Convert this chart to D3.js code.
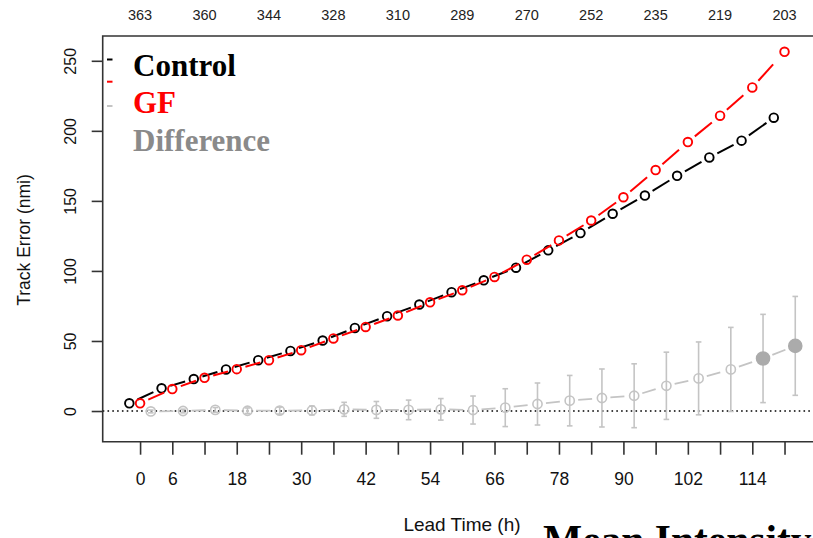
<!DOCTYPE html>
<html>
<head>
<meta charset="utf-8">
<script src="https://cdn.jsdelivr.net/npm/d3@7"></script>
<style>
  body { margin: 0; background: #fff; }
  svg { display: block; overflow: hidden; }
</style>
</head>
<body>
<div id="main"></div>
<script>
// lead times (h) and mean track errors (nmi)
const leadTimes = [0, 6, 12, 18, 24, 30, 36, 42, 48, 54, 60, 66, 72, 78, 84, 90, 96, 102, 108, 114, 120];
const controlErr = [5.5, 16.2, 22.8, 29.7, 36.3, 42.9, 50.3, 59.3, 67.7, 76, 84.8, 93.3, 102.3, 114.7, 127, 140.8, 153.8, 167.9, 181, 193, 209.4];
const gfErr = [5.5, 15.7, 23.7, 29.9, 36.3, 43.4, 51.8, 60, 68.2, 77.6, 86.2, 95.7, 108, 121.8, 136, 152.6, 172, 192, 210.8, 231, 256.4];
const diffMean = [-0.3, 0, 0.8, 0.2, 0.3, 0.4, 1.2, 0.8, 0.8, 1.2, 0.7, 2.4, 5, 7.4, 9.3, 10.9, 18, 23.3, 29.7, 37.5, 46.5];
const diffCI = [1, 1.3, 1.7, 2, 2.5, 3.2, 5, 6, 7, 7.7, 10, 13.5, 15, 18, 20.7, 22.8, 24, 26, 30, 31.5, 35.3];
const diffSig = [false, false, false, false, false, false, false, false, false, false, false, false, false, false, false, false, false, false, false, true, true];

// number of cases along the top
const countTimes = [0, 12, 24, 36, 48, 60, 72, 84, 96, 108, 120];
const caseCounts = [363, 360, 344, 328, 310, 289, 270, 252, 235, 219, 203];

const xTickValues = [0, 6, 12, 18, 24, 30, 36, 42, 48, 54, 60, 66, 72, 78, 84, 90, 96, 102, 108, 114, 120];
const xTickLabels = [0, 6, 18, 30, 42, 54, 66, 78, 90, 102, 114];
const yTickValues = [0, 50, 100, 150, 200, 250];

const W = 813, H = 538;
const pLeft = 102.7, pTop = 36, pRight = 821.9, pBottom = 441.7;

let svg = d3.select('#main').append('svg').attr('width', W).attr('height', H);

let x = d3.scaleLinear().domain([-6.96, 126.96]).range([pLeft, pRight]);
let y = d3.scaleLinear().domain([-21.9, 267.7]).range([pBottom, pTop]);

// zero reference line
svg.append('line')
    .attr('x1', pLeft).attr('x2', pRight)
    .attr('y1', y(0)).attr('y2', y(0))
    .attr('stroke', '#000').attr('stroke-width', 1.6)
    .attr('stroke-dasharray', '1.6 3.2');

// R style type="b": segments with a gap round each point
function gappedSegments(g, pts, gap, color, width, dash) {
    for (let i = 0; i < pts.length - 1; i++) {
        let [x1, y1] = pts[i], [x2, y2] = pts[i + 1];
        let dx = x2 - x1, dy = y2 - y1, len = Math.hypot(dx, dy);
        let g1 = gap[i], g2 = gap[i + 1];
        if (len <= g1 + g2) continue;
        let ux = dx / len, uy = dy / len;
        g.append('line')
            .attr('x1', x1 + ux * g1).attr('y1', y1 + uy * g1)
            .attr('x2', x2 - ux * g2).attr('y2', y2 - uy * g2)
            .attr('stroke', color).attr('stroke-width', width)
            .attr('stroke-dasharray', dash);
    }
}

// difference series with error bars
let diffColor = '#c4c4c4';
let gd = svg.append('g');
let diffPts = leadTimes.map((t, i) => [x(t + 2), y(diffMean[i])]);
gappedSegments(gd, diffPts, diffSig.map(s => s ? 10 : 8.5), diffColor, 1.8, '14 7');

leadTimes.forEach((t, i) => {
    let cx = x(t + 2);
    let lo = y(diffMean[i] - diffCI[i]), hi = y(diffMean[i] + diffCI[i]);
    gd.append('line').attr('x1', cx).attr('x2', cx).attr('y1', lo).attr('y2', hi)
        .attr('stroke', diffColor).attr('stroke-width', 1.6);
    [lo, hi].forEach(v => {
        gd.append('line').attr('x1', cx - 2.8).attr('x2', cx + 2.8).attr('y1', v).attr('y2', v)
            .attr('stroke', diffColor).attr('stroke-width', 1.6);
    });
});

gd.selectAll('circle')
    .data(leadTimes)
    .enter()
    .append('circle')
    .attr('cx', t => x(t + 2))
    .attr('cy', (t, i) => y(diffMean[i]))
    .attr('r', (t, i) => diffSig[i] ? 6.5 : 4.6)
    .attr('fill', (t, i) => diffSig[i] ? '#ababab' : 'none')
    .attr('stroke', (t, i) => diffSig[i] ? '#ababab' : diffColor)
    .attr('stroke-width', 1.6);

// control and GF
let series = [
    { values: controlErr, dodge: -2, color: '#000' },
    { values: gfErr, dodge: 0, color: '#ff0000' }
];

series.forEach(s => {
    let g = svg.append('g');
    let pts = leadTimes.map((t, i) => [x(t + s.dodge), y(s.values[i])]);
    gappedSegments(g, pts, pts.map(() => 9), s.color, 2, '22 9');
    g.selectAll('circle')
        .data(leadTimes)
        .enter()
        .append('circle')
        .attr('cx', t => x(t + s.dodge))
        .attr('cy', (t, i) => y(s.values[i]))
        .attr('r', 4.3)
        .attr('fill', 'none')
        .attr('stroke', s.color)
        .attr('stroke-width', 1.9);
});

// box (right side is off the picture)
svg.append('path')
    .attr('d', `M${pRight},${pTop}H${pLeft}V${pBottom}H${pRight}`)
    .attr('fill', 'none').attr('stroke', '#333').attr('stroke-width', 1.6);

// bottom axis
let xAxis = d3.axisBottom(x)
    .tickValues(xTickValues)
    .tickFormat(d => xTickLabels.includes(d) ? d : '')
    .tickSize(13)
    .tickSizeOuter(0)
    .tickPadding(18);

let gx = svg.append('g').attr('transform', `translate(0,${pBottom})`).call(xAxis);
gx.select('.domain').remove();
gx.selectAll('line').attr('stroke', '#333').attr('stroke-width', 1.6);
gx.selectAll('text').attr('font-family', 'Liberation Sans, Arial, sans-serif')
    .attr('font-size', 17.5).attr('fill', '#111');

// left axis with rotated labels
let yAxis = d3.axisLeft(y)
    .tickValues(yTickValues)
    .tickSize(11)
    .tickSizeOuter(0)
    .tickFormat(d3.format('d'));

let gy = svg.append('g').attr('transform', `translate(${pLeft},0)`).call(yAxis);
gy.select('.domain').remove();
gy.selectAll('line').attr('stroke', '#333').attr('stroke-width', 1.6);
gy.selectAll('text')
    .attr('x', null).attr('dy', null)
    .attr('text-anchor', 'middle')
    .attr('transform', 'translate(-27,0) rotate(-90)')
    .attr('font-family', 'Liberation Sans, Arial, sans-serif')
    .attr('font-size', 16).attr('fill', '#111');

// case counts on top
svg.append('g').selectAll('text')
    .data(countTimes)
    .enter()
    .append('text')
    .attr('x', d => x(d))
    .attr('y', 20)
    .attr('text-anchor', 'middle')
    .attr('font-family', 'Liberation Sans, Arial, sans-serif')
    .attr('font-size', 14.5)
    .attr('fill', '#222')
    .text((d, i) => caseCounts[i]);

// axis titles
svg.append('text')
    .attr('transform', 'translate(30,240) rotate(-90)')
    .attr('text-anchor', 'middle')
    .attr('font-family', 'Liberation Sans, Arial, sans-serif')
    .attr('font-size', 17.5)
    .attr('fill', '#111')
    .text('Track Error (nmi)');

svg.append('text')
    .attr('x', 462).attr('y', 531)
    .attr('text-anchor', 'middle')
    .attr('font-family', 'Liberation Sans, Arial, sans-serif')
    .attr('font-size', 19)
    .attr('fill', '#111')
    .text('Lead Time (h)');

// legend
let legendItems = [
    { label: 'Control', color: '#000', lineY: 59.5, textY: 76 },
    { label: 'GF', color: '#ff0000', lineY: 81.7, textY: 113 },
    { label: 'Difference', color: '#8a8a8a', lineY: 106, textY: 151 }
];
let lineColors = ['#000', '#ff0000', '#c4c4c4'];

legendItems.forEach((d, i) => {
    svg.append('line')
        .attr('x1', 107).attr('x2', 112.5)
        .attr('y1', d.lineY).attr('y2', d.lineY)
        .attr('stroke', lineColors[i]).attr('stroke-width', 2);
    svg.append('text')
        .attr('x', 133).attr('y', d.textY)
        .attr('font-family', 'Liberation Serif, Times New Roman, serif')
        .attr('font-weight', 'bold')
        .attr('font-size', 31)
        .attr('fill', d.color)
        .text(d.label);
});

// title of the next panel, cut off at the bottom as in the source image
svg.append('text')
    .attr('x', 543).attr('y', 554)
    .attr('font-family', 'Liberation Serif, Times New Roman, serif')
    .attr('font-weight', 'bold')
    .attr('font-size', 41.5)
    .attr('fill', '#000')
    .text('Mean Intensity');
</script>
</body>
</html>
